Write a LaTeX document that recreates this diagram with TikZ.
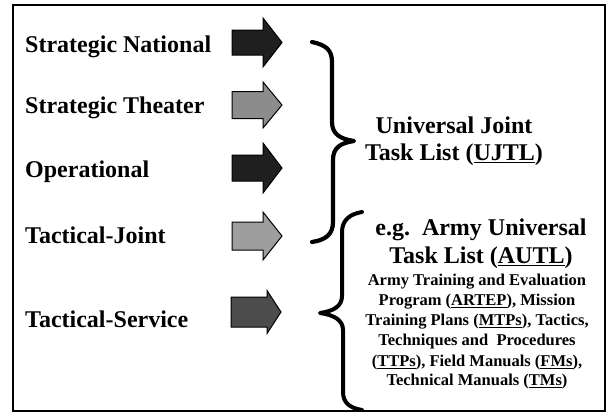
\documentclass[tikz,border=0pt]{standalone}
\usepackage{fontspec}
\setmainfont{Liberation Serif}
\newcommand\fatarrow[8]{% name, x0, xbody, xtip, ymid, halfbody, halfhead, fill
  \draw[arrowbox, fill=#8] (#2,#5-#6) -- (#3,#5-#6) -- (#3,#5-#7) -- (#4,#5)
    -- (#3,#5+#7) -- (#3,#5+#6) -- (#2,#5+#6) -- cycle;
  \coordinate (#1) at (#4,#5);}
\newcommand\myul[1]{\leavevmode\vtop{\hbox{#1}\kern1.6pt\hrule height 1.4pt}}
\begin{document}
\begin{tikzpicture}[x=1pt,y=-1pt,
  lvl/.style={anchor=base west, inner sep=0pt, font=\fontsize{24}{28}\selectfont\bfseries},
  head/.style={anchor=base, inner sep=0pt, font=\fontsize{24}{28}\selectfont\bfseries},
  small/.style={anchor=base, inner sep=0pt, font=\fontsize{16.5}{20}\selectfont\bfseries},
  arrowbox/.style={draw=black, line width=1pt, line join=miter},
  brace/.style={draw=black, line width=4.2pt, line cap=round, line join=round}]
\useasboundingbox (0,0) rectangle (608,415);
\draw[line width=1.6pt] (13,5) rectangle (605,411);
% level labels
\node[lvl] (sn) at (25,52) {Strategic National};
\node[lvl] (st) at (25,113) {Strategic Theater};
\node[lvl] (op) at (25,177) {Operational};
\node[lvl] (tj) at (25,243) {Tactical-Joint};
\node[lvl] (ts) at (25,327) {Tactical-Service};
% arrows
\fatarrow{a1}{232}{263}{282}{42.5}{12.5}{24.5}{black!88}
\fatarrow{a2}{232}{263}{282}{105}{13.5}{23}{black!45}
\fatarrow{a3}{232}{263}{282}{168}{13}{25}{black!88}
\fatarrow{a4}{232}{263}{282}{236}{14}{24}{black!38}
\fatarrow{a5}{231}{267}{281}{312}{15}{21.5}{black!70}
% brace 1 (UJTL)
\coordinate (b1t) at (312,42);
\coordinate (b1m) at (354,141);
\coordinate (b1b) at (312,242);
\draw[brace] (b1t) .. controls (326,45) and (332,50) .. (332,62)
  -- (332,122) .. controls (332,134) and (340,139) .. (b1m)
  .. controls (340,143) and (333,148) .. (333,160)
  -- (333,222) .. controls (333,234) and (326,240) .. (b1b);
% brace 2 (AUTL)
\coordinate (b2t) at (362,212);
\coordinate (b2m) at (320,313);
\coordinate (b2b) at (362,410);
\draw[brace, line width=4pt] (b2t) .. controls (350,214) and (342,220) .. (342,232)
  -- (342,296) .. controls (342,306) and (334,311) .. (b2m)
  .. controls (334,315) and (343,320) .. (343,330)
  -- (343,392) .. controls (343,403) and (350,408) .. (b2b);
% UJTL text
\node[head] (u1) at (454,133) {Universal Joint};
\node[head] (u2) at (454,160) {Task List (\myul{UJTL})};
% AUTL text
\node[head] (e1) at (481,235) {e.g.\ \ Army Universal};
\node[head] (e2) at (481,263) {Task List (\myul{AUTL})};
\node[small] (s1) at (477,285) {Army Training and Evaluation};
\node[small] (s2) at (477,305) {Program (\myul{ARTEP}), Mission};
\node[small] (s3) at (477,325) {Training Plans (\myul{MTPs}), Tactics,};
\node[small] (s4) at (477,345) {Techniques and\ \ Procedures};
\node[small] (s5) at (477,366) {(\myul{TTPs}), Field Manuals (\myul{FMs}),};
\node[small] (s6) at (477,385) {Technical Manuals (\myul{TMs})};
\end{tikzpicture}
\end{document}
